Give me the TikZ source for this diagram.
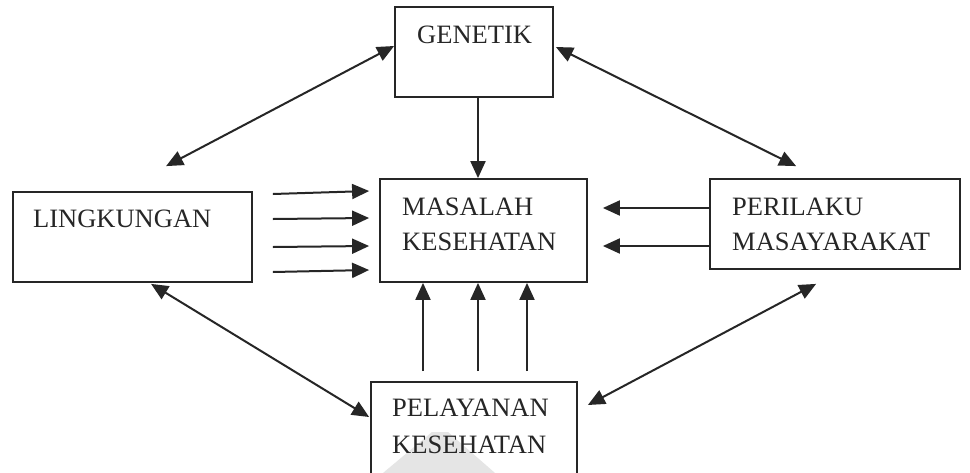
\documentclass[tikz,border=0pt]{standalone}
\usepackage{fontspec}
\setmainfont{Liberation Serif}
\usetikzlibrary{arrows.meta,calc}
\begin{document}
\begin{tikzpicture}[x=1pt,y=-1pt,
  box/.style={draw=black!85,line width=1.8pt,rectangle,inner sep=0pt},
  lbl/.style={anchor=base west,inner sep=0pt,text=black!85,font=\fontsize{26.5}{35}\selectfont},
  arr/.style={draw=black!85,line width=2pt,-{Triangle[length=17pt,width=15pt]}},
  dbl/.style={draw=black!85,line width=2pt,{Triangle[length=17pt,width=15pt]}-{Triangle[length=17pt,width=15pt]}}]
\clip (0,0) rectangle (970,472);
\fill[white] (0,0) rectangle (970,472);

% faint emblem behind the lower box
\fill[black!10] (383,473) -- (432,432) -- (448,432) -- (495,473) -- cycle;

% boxes
\node[box,minimum width=158pt,minimum height=90pt]  (gen) at (474,52) {};
\node[box,minimum width=207pt,minimum height=103pt] (mas) at (483.5,230.5) {};
\node[box,minimum width=239pt,minimum height=90pt]  (lin) at (132.5,237) {};
\node[box,minimum width=250pt,minimum height=90pt]  (per) at (835,224) {};
\node[box,minimum width=206pt,minimum height=98pt]  (pel) at (474,431) {};

% labels
\node[lbl] (genT)  at (417,43)  {GENETIK};
\node[lbl] (masT1) at (402,215) {MASALAH};
\node[lbl] (masT2) at (402,250) {KESEHATAN};
\node[lbl] (linT)  at (33,227)  {LINGKUNGAN};
\node[lbl] (perT1) at (732,215) {PERILAKU};
\node[lbl] (perT2) at (732,250) {MASAYARAKAT};
\node[lbl] (pelT1) at (392,416) {PELAYANAN};
\node[lbl] (pelT2) at (392,453) {KESEHATAN};

% two-way links around the ring
\draw[dbl] ($(lin.north west)+(154,-25)$) -- ($(gen.west)+(0,-6)$);
\draw[dbl] ($(gen.east)+(2,-5)$) -- ($(per.north west)+(87,-12)$);
\draw[dbl] ($(lin.south west)+(139,1)$) -- ($(pel.west)+(-1,-14)$);
\draw[dbl] ($(pel.east)+(10,-26)$) -- ($(per.south west)+(107,14)$);

% genetics into the centre
\draw[arr] ($(gen.south)+(4,0)$) -- ($(mas.north)+(-5.5,0)$);

% environment into the centre
\draw[arr] ($(lin.east)+(20,-43)$) -- ($(mas.west)+(-10,-39.5)$);
\draw[arr] ($(lin.east)+(20,-18)$) -- ($(mas.west)+(-10,-12.5)$);
\draw[arr] ($(lin.east)+(20,10)$)  -- ($(mas.west)+(-10,15.5)$);
\draw[arr] ($(lin.east)+(20,35)$)  -- ($(mas.west)+(-10,39.5)$);

% behaviour into the centre
\draw[arr] ($(per.west)+(0,-16)$) -- ($(mas.east)+(15,-22.5)$);
\draw[arr] ($(per.west)+(0,22)$)  -- ($(mas.east)+(15,15.5)$);

% health services into the centre
\draw[arr] ($(pel.north)+(-51,-10)$) -- ($(mas.south)+(-60.5,0)$);
\draw[arr] ($(pel.north)+(4,-10)$)   -- ($(mas.south)+(-5.5,0)$);
\draw[arr] ($(pel.north)+(53,-10)$)  -- ($(mas.south)+(43.5,0)$);
\end{tikzpicture}
\end{document}
